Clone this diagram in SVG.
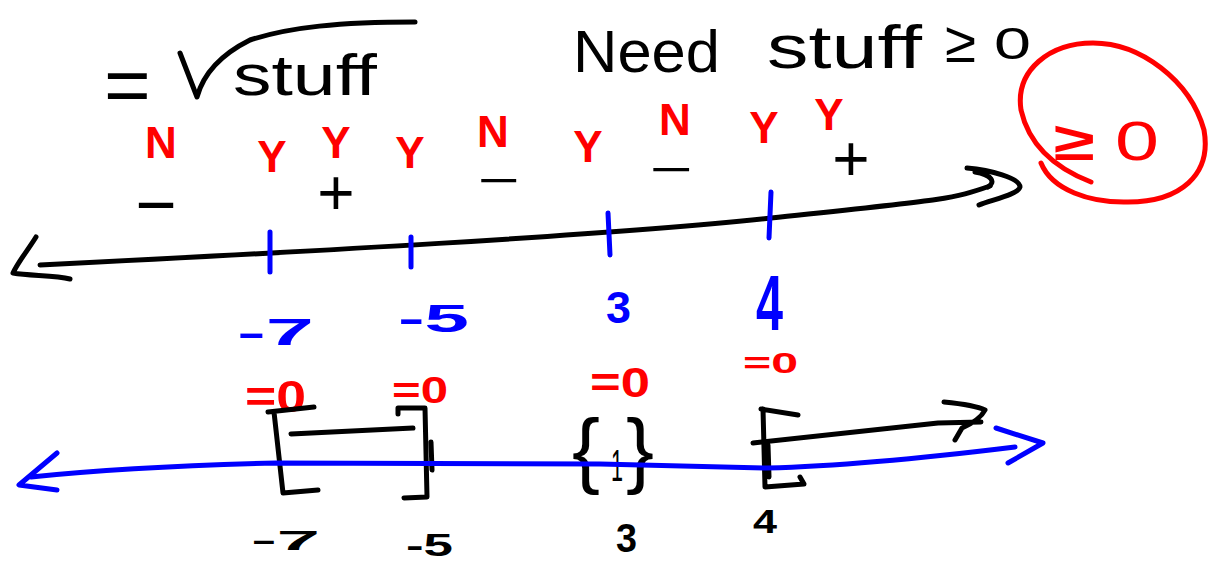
<svg xmlns="http://www.w3.org/2000/svg" width="1209" height="563" viewBox="0 0 1209 563">
<style>
text{font-family:"Liberation Sans",Arial,sans-serif}
.k{fill:#000}.r{fill:#ff0000}.b{fill:#0000ff}
.bd{font-weight:bold}
.s{fill:none;stroke-linecap:round;stroke-linejoin:round;stroke-width:5}
.sk{stroke:#000}.sr{stroke:#ff0000}.sb{stroke:#0000ff}
.m{text-anchor:middle}
</style>
<rect width="1209" height="563" fill="#fff"/>
<g id="root-expr">
<text class="k" x="104" y="112" font-size="80">=</text>
<path class="s sk" d="M180,53 L197,97 C203,75 220,55 250,40 C290,27 340,22 415,22"/>
<text class="k" x="233" y="95" font-size="58" textLength="144" lengthAdjust="spacingAndGlyphs">stuff</text>
</g>
<g id="need">
<text class="k" x="573" y="72" font-size="60" textLength="147" lengthAdjust="spacingAndGlyphs">Need</text>
<text class="k" x="767" y="68" font-size="62" textLength="155" lengthAdjust="spacingAndGlyphs">stuff</text>
<text class="k" x="945" y="62" font-size="58" textLength="31" lengthAdjust="spacingAndGlyphs">≥</text>
<text class="k" x="994" y="59" font-size="44" textLength="37" lengthAdjust="spacingAndGlyphs">0</text>
</g>
<g id="answer">
<path class="s sr" d="M1091,182 C1060,170 1030,150 1021,110 C1015,70 1050,43 1093,43 C1140,43 1190,80 1204,130 C1212,175 1180,202 1128,202 C1090,203 1052,190 1041,163"/>
<text class="r bd" x="1054" y="160" font-size="54" textLength="41" lengthAdjust="spacingAndGlyphs">≥</text>
<text class="r" x="1115" y="160" font-size="56" textLength="44" lengthAdjust="spacingAndGlyphs">0</text>
</g>
<g id="yn-labels" class="r bd m" font-size="44">
<text x="161" y="158">N</text>
<text x="272" y="172">Y</text>
<text x="336" y="158">Y</text>
<text x="410" y="168">Y</text>
<text x="493" y="147">N</text>
<text x="588" y="162">Y</text>
<text x="675" y="135">N</text>
<text x="764" y="143">Y</text>
<text x="829" y="130">Y</text>
</g>
<g id="signs" class="k">
<text x="136" y="222" font-size="50" font-weight="bold" textLength="40" lengthAdjust="spacingAndGlyphs">−</text>
<text class="m" x="336" y="215" font-size="64">+</text>
<text x="478" y="196" font-size="46" textLength="42" lengthAdjust="spacingAndGlyphs">−</text>
<text x="650" y="185" font-size="46" textLength="43" lengthAdjust="spacingAndGlyphs">−</text>
<text class="m" x="851" y="181" font-size="64">+</text>
</g>
<g id="critical-values" class="b">
<text x="237" y="345" font-size="36" font-weight="bold" textLength="77" lengthAdjust="spacingAndGlyphs">-7</text>
<text x="398" y="332" font-size="38" font-weight="bold" textLength="71" lengthAdjust="spacingAndGlyphs">-5</text>
<text x="606" y="323" font-size="44" font-weight="bold" textLength="25" lengthAdjust="spacingAndGlyphs">3</text>
<text x="756" y="330" font-size="78" font-weight="bold" textLength="27" lengthAdjust="spacingAndGlyphs">4</text>
</g>
<g id="zero-marks" class="r bd">
<text x="245" y="412" font-size="44" textLength="61" lengthAdjust="spacingAndGlyphs">=0</text>
<text x="392" y="403" font-size="36" textLength="56" lengthAdjust="spacingAndGlyphs">=0</text>
<text x="590" y="397" font-size="42" textLength="60" lengthAdjust="spacingAndGlyphs">=0</text>
<text x="743" y="373" font-size="30" textLength="55" lengthAdjust="spacingAndGlyphs">=0</text>
</g>
<g id="interval-1">
<path class="s sk" d="M314,407 L268,412 M274,412 L283,493 L318,490 M291,434 L413,428 M398,414 L398,408 L425,408 L427,497 L404,498 M431,442 L432,470"/>
</g>
<g id="point-3" class="k">
<text x="572" y="478" font-size="84">{</text>
<text x="611" y="481" font-size="44" textLength="12" lengthAdjust="spacingAndGlyphs">1</text>
<text x="626" y="478" font-size="84">}</text>
</g>
<g id="interval-2">
<path class="s sk" d="M798,415 L761,409 M763,409 L765,487 L804,484 L800,477 M768,445 L769,477"/>
</g>
<g id="bottom-labels" class="k bd">
<text x="251" y="550" font-size="28" textLength="69" lengthAdjust="spacingAndGlyphs">-7</text>
<text x="406" y="556" font-size="32" textLength="47" lengthAdjust="spacingAndGlyphs">-5</text>
<text x="616" y="552" font-size="40" textLength="21" lengthAdjust="spacingAndGlyphs">3</text>
<text x="753" y="533" font-size="34" textLength="24" lengthAdjust="spacingAndGlyphs">4</text>
</g>
<g id="connectors">
<path class="s sk" d="M40,265 C300,252 600,236 771,218 S950,200 990,186"/>
<path class="s sk" d="M967,168 C990,170 1020,178 1020,187 C1018,195 990,200 979,205 M988,187 C996,182 992,175 975,172"/>
<path class="s sk" d="M36,237 C28,250 18,262 13,273 C30,276 55,275 70,279"/>
<path class="s sb" d="M270,232 L270,272 M411,237 L411,267 M608,213 L610,255 M771,192 L769,238"/>
<path class="s sb" d="M31,477 C100,470 200,465 276,463 L600,464 L767,468 C850,466 950,455 1015,447"/>
<path class="s sb" d="M996,428 L1043,443 L1008,463 M57,453 L19,485 L57,490"/>
<path class="s sk" d="M753,443 L938,423 L981,422 M944,402 Q975,405 985,410 Q980,420 962,428 L955,440"/>
</g>
</svg>
